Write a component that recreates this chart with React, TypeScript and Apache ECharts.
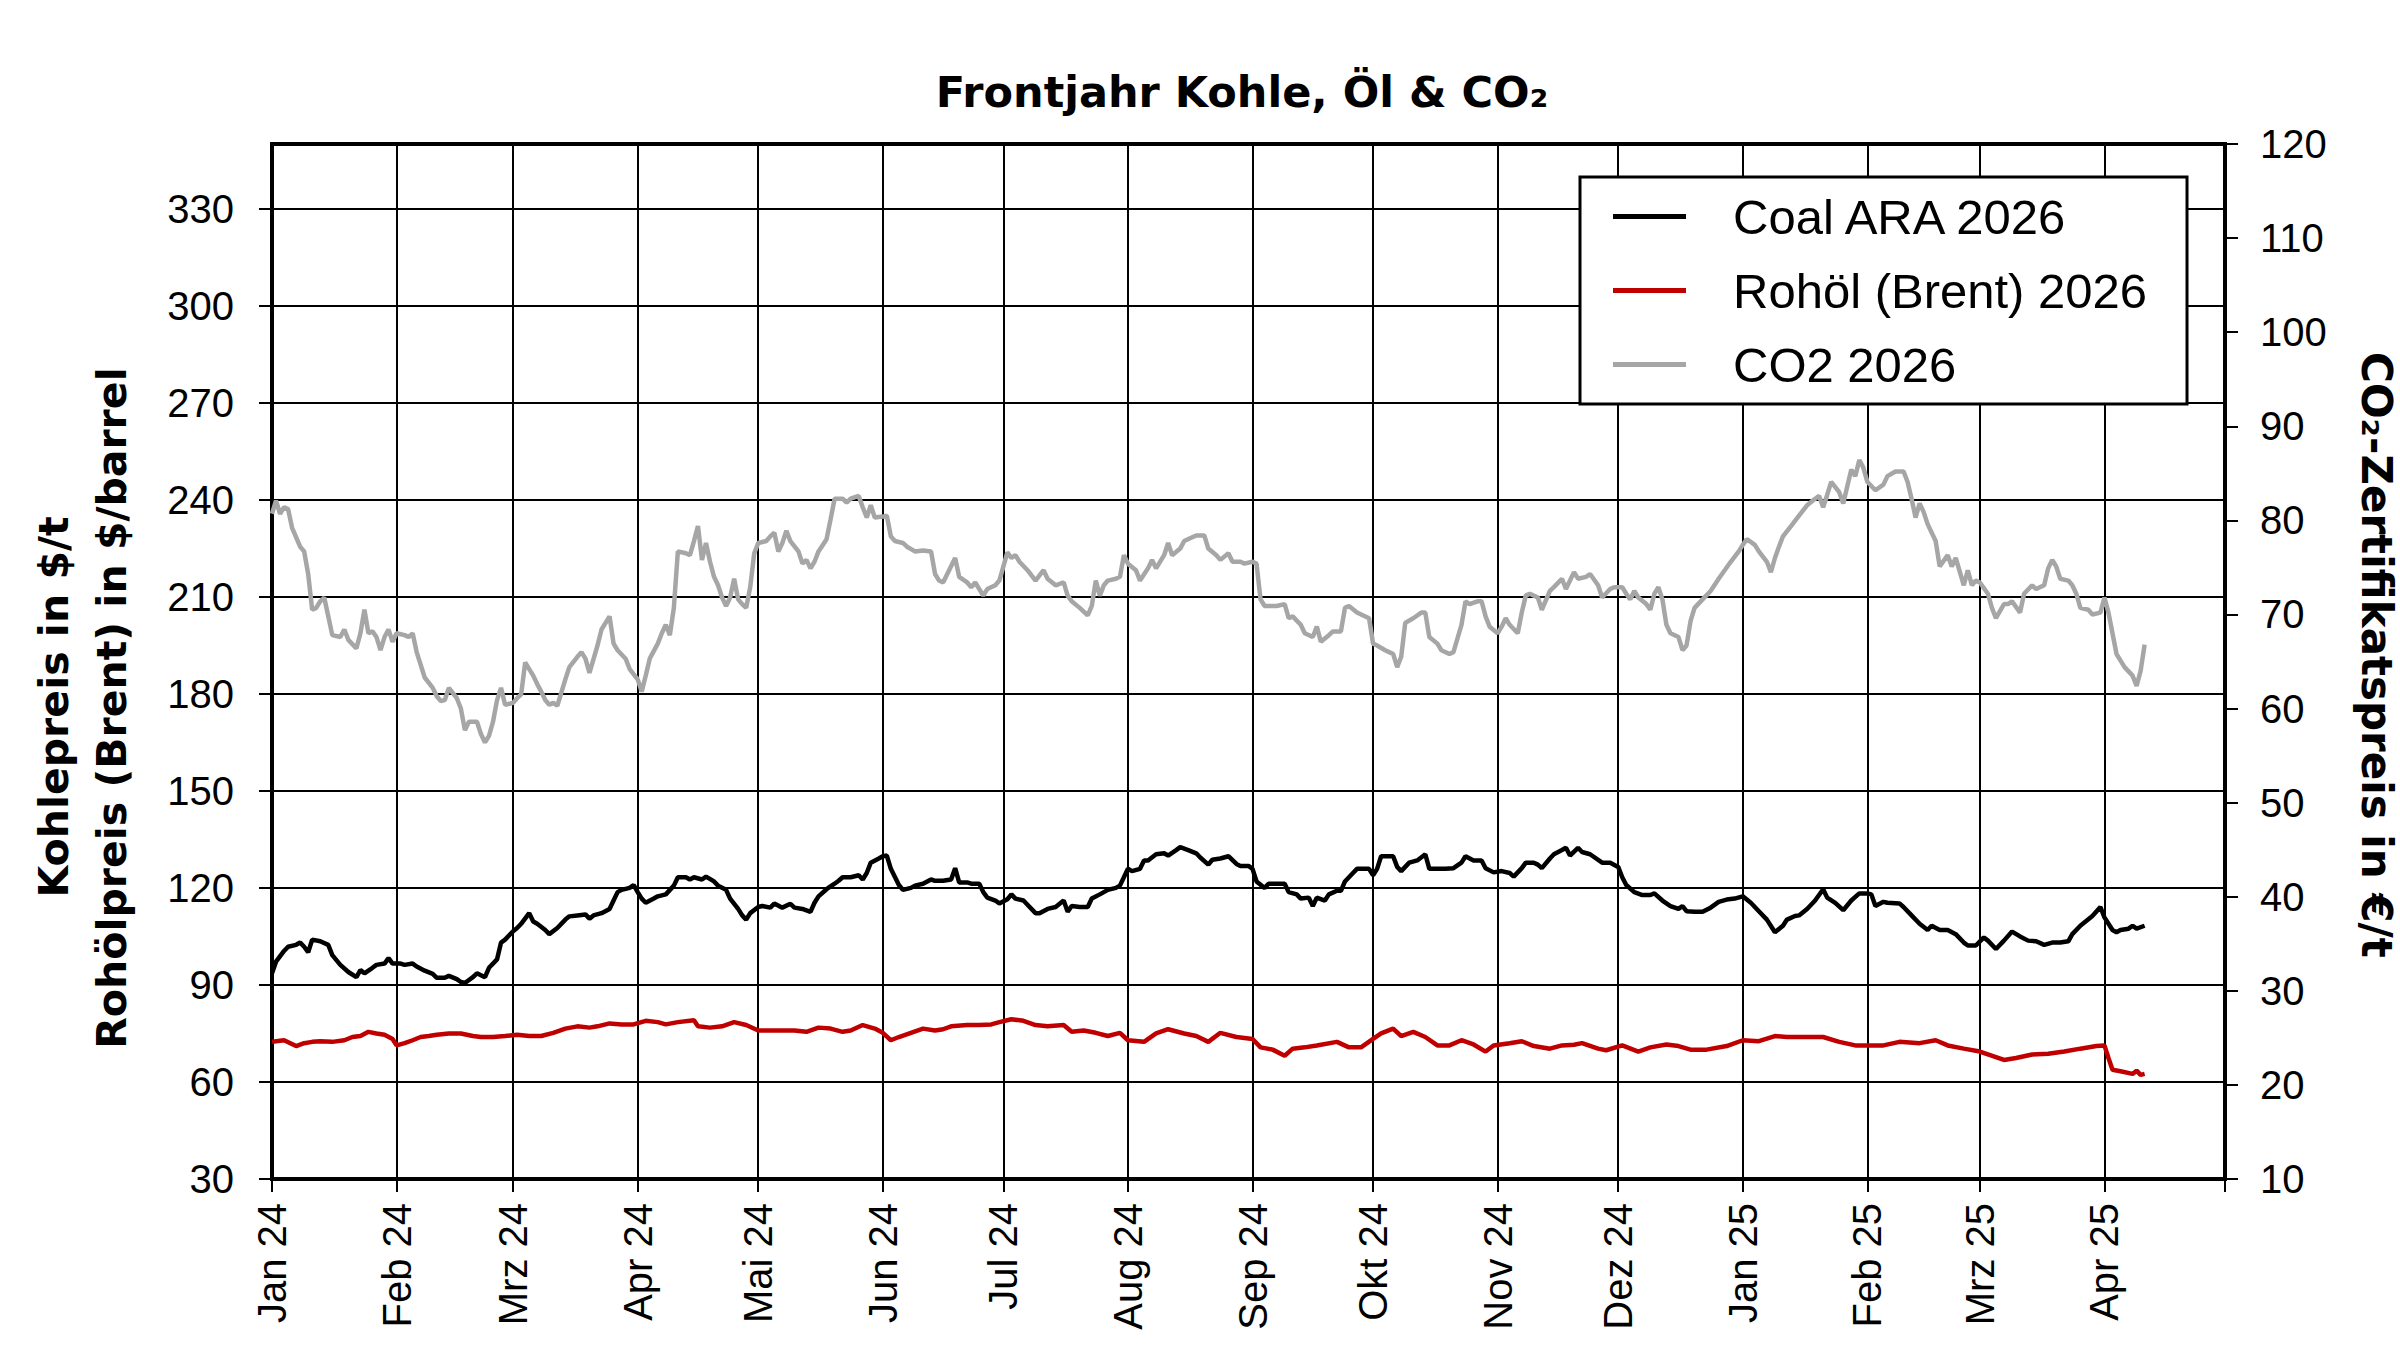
import React, { useEffect, useRef } from 'react';
import * as echarts from 'echarts';

// ---------- tick labels ----------
const monthLabels = [
  'Jan 24', 'Feb 24', 'Mrz 24', 'Apr 24', 'Mai 24', 'Jun 24', 'Jul 24', 'Aug 24',
  'Sep 24', 'Okt 24', 'Nov 24', 'Dez 24', 'Jan 25', 'Feb 25', 'Mrz 25', 'Apr 25',
];
const leftTicks = [30, 60, 90, 120, 150, 180, 210, 240, 270, 300, 330];
const rightTicks = [10, 20, 30, 40, 50, 60, 70, 80, 90, 100, 110, 120];

// ---------- series (day offset from 1 Jan 2024, value) ----------
const coalDays = [
  0, 1, 3, 4, 6, 7, 8, 9, 10, 12, 14, 15, 17, 19, 21, 22, 23, 25, 26, 28, 29, 30, 32, 33, 35, 36, 38, 40, 41, 43,
  44, 46, 47, 48, 50, 51, 53, 54, 56, 57, 58, 60, 61, 62, 64, 65, 66, 68, 69, 71, 73, 74, 76, 78, 79, 80, 82, 84, 85, 86,
  87, 89, 90, 91, 92, 93, 95, 96, 98, 100, 101, 103, 104, 105, 107, 108, 110, 111, 113, 114, 116, 117, 118, 119, 121, 122, 124, 125, 127, 129,
  130, 132, 134, 135, 136, 138, 140, 141, 142, 144, 146, 147, 148, 149, 151, 152, 153, 154, 156, 157, 159, 160, 162, 164, 165, 167, 169, 170, 171, 173,
  174, 176, 177, 178, 180, 181, 183, 184, 185, 187, 188, 190, 191, 193, 195, 197, 198, 199, 201, 203, 204, 206, 208, 210, 211, 213, 214, 216, 217, 218,
  220, 222, 223, 225, 226, 228, 230, 231, 233, 234, 236, 238, 240, 241, 243, 244, 245, 247, 248, 250, 252, 253, 255, 256, 258, 259, 260, 262, 263, 265,
  266, 267, 269, 270, 273, 274, 275, 276, 279, 280, 281, 283, 285, 287, 288, 290, 292, 294, 296, 297, 299, 301, 302, 304, 306, 308, 309, 311, 312, 314,
  315, 316, 318, 319, 321, 322, 323, 325, 326, 328, 331, 333, 335, 336, 337, 339, 341, 343, 344, 346, 348, 350, 351, 352, 354, 356, 358, 360, 362, 364,
  366, 368, 370, 372, 374, 376, 377, 379, 380, 382, 384, 386, 387, 389, 391, 393, 395, 397, 398, 399, 401, 402, 405, 406, 408, 410, 412, 413, 415, 417,
  419, 421, 422, 424, 426, 427, 429, 431, 433, 435, 437, 439, 441, 443, 445, 447, 448, 450, 453, 455, 456, 458, 459, 460, 462, 463, 464, 466,
];
const coalValues = [
  93.6, 97.2, 100.5, 101.8, 102.4, 103.1, 101.8, 100.1, 104.0, 103.5, 102.4, 99.2, 96.2, 94.0, 92.4, 94.6, 93.6, 95.3, 96.2, 96.6, 98.3, 96.6, 96.6, 96.2, 96.6, 95.7, 94.4, 93.4, 92.2, 92.2,
  92.8, 91.8, 90.9, 90.6, 92.4, 93.6, 92.4, 95.3, 97.9, 103.1, 104.0, 106.6, 107.6, 108.9, 112.2, 109.6, 108.9, 107.0, 105.7, 107.6, 110.2, 111.2, 111.5, 111.8, 110.5, 111.5, 112.2, 113.5, 116.1, 118.7,
  119.4, 120.0, 120.9, 118.7, 116.7, 115.4, 116.7, 117.4, 118.0, 120.7, 123.3, 123.3, 122.6, 123.3, 122.6, 123.5, 122.0, 120.7, 119.4, 116.7, 113.5, 111.5, 110.2, 112.2, 114.1, 114.4, 113.9, 115.2, 113.9, 115.1,
  113.9, 113.5, 112.6, 115.4, 117.4, 119.6, 121.3, 122.2, 123.3, 123.3, 123.9, 122.6, 124.6, 127.8, 129.1, 129.8, 130.0, 125.9, 120.9, 119.4, 120.0, 120.7, 121.3, 122.6, 122.2, 122.2, 122.6, 126.1, 121.7, 121.7,
  121.3, 121.3, 118.7, 117.0, 116.1, 115.2, 116.5, 118.0, 116.7, 116.1, 114.8, 112.2, 112.2, 113.5, 114.1, 116.1, 112.6, 114.4, 114.1, 114.1, 116.7, 118.0, 119.4, 120.0, 120.7, 125.9, 125.2, 125.9, 128.5, 128.5,
  130.4, 130.7, 130.0, 131.7, 132.6, 131.7, 130.7, 129.4, 127.2, 128.7, 129.1, 129.8, 127.4, 126.8, 126.8, 125.9, 122.0, 120.0, 121.3, 121.3, 121.3, 118.7, 118.0, 116.7, 117.0, 114.4, 117.0, 116.1, 118.0, 119.1,
  119.1, 122.0, 124.6, 125.9, 125.9, 123.9, 125.9, 129.8, 129.8, 126.5, 125.2, 127.8, 128.5, 130.4, 125.9, 125.9, 125.9, 126.1, 127.8, 129.8, 128.5, 128.5, 126.1, 124.8, 125.2, 124.6, 123.5, 126.1, 127.8, 127.8,
  127.2, 126.1, 129.1, 130.4, 131.7, 132.4, 130.0, 132.4, 131.1, 130.4, 127.8, 127.8, 126.5, 123.3, 120.9, 118.7, 117.8, 117.8, 118.3, 116.1, 114.4, 113.5, 114.4, 112.8, 112.6, 112.6, 113.9, 115.7, 116.4, 116.7,
  117.4, 115.4, 112.8, 110.2, 106.3, 108.3, 110.2, 111.3, 111.5, 113.5, 116.1, 119.6, 117.0, 115.4, 113.1, 116.1, 118.3, 118.3, 118.0, 114.4, 115.7, 115.4, 115.2, 114.1, 111.5, 108.9, 107.0, 108.3, 107.0, 107.0,
  105.7, 103.1, 102.2, 102.2, 104.7, 103.7, 101.1, 103.7, 106.5, 105.0, 103.7, 103.5, 102.4, 103.1, 103.1, 103.5, 105.7, 108.3, 111.3, 114.1, 110.9, 107.0, 106.3, 107.0, 107.4, 108.3, 107.4, 108.3,
];

const oilDays = [
  0, 1, 3, 6, 8, 10, 12, 15, 18, 20, 22, 24, 26, 28, 30, 31, 33, 35, 37, 39, 41, 44, 47, 50, 52, 55, 58, 61, 64, 67,
  70, 73, 76, 79, 81, 84, 87, 90, 93, 96, 98, 101, 105, 106, 109, 112, 115, 118, 121, 124, 127, 130, 133, 136, 139, 142, 144, 147, 150, 152,
  154, 156, 159, 162, 165, 167, 169, 173, 176, 179, 181, 184, 187, 190, 193, 197, 199, 202, 205, 208, 211, 213, 217, 220, 223, 227, 230, 233, 236, 240,
  244, 246, 249, 252, 254, 257, 260, 265, 268, 271, 274, 276, 279, 281, 284, 287, 290, 293, 296, 299, 302, 304, 308, 311, 314, 318, 321, 324, 326, 330,
  332, 336, 340, 343, 347, 350, 353, 357, 362, 366, 370, 374, 377, 381, 386, 390, 394, 397, 401, 405, 410, 414, 417, 421, 425, 429, 431, 434, 438, 442,
  446, 450, 454, 456, 457, 458, 460, 463, 464, 465, 466,
];
const oilValues = [
  72.4, 72.6, 72.9, 71.1, 72.0, 72.4, 72.6, 72.4, 72.9, 73.9, 74.2, 75.5, 75.0, 74.6, 73.3, 71.3, 72.0, 72.9, 73.9, 74.2, 74.6, 75.0, 75.0, 74.2, 73.9, 73.9, 74.2, 74.6, 74.2, 74.2,
  75.2, 76.5, 77.2, 76.8, 77.2, 78.1, 77.8, 77.8, 78.9, 78.5, 77.8, 78.5, 79.1, 77.2, 76.8, 77.2, 78.5, 77.6, 75.9, 75.9, 75.9, 75.9, 75.5, 76.8, 76.5, 75.5, 75.9, 77.6, 76.5, 75.2,
  72.9, 73.9, 75.2, 76.5, 75.9, 76.3, 77.2, 77.6, 77.6, 77.8, 78.5, 79.4, 78.9, 77.6, 77.2, 77.6, 75.5, 75.9, 75.2, 74.2, 75.2, 72.9, 72.4, 75.0, 76.3, 75.0, 74.2, 72.4, 75.2, 73.9,
  73.3, 70.7, 70.0, 68.1, 70.3, 70.7, 71.3, 72.4, 70.7, 70.7, 73.3, 75.0, 76.5, 74.2, 75.5, 73.9, 71.3, 71.3, 72.9, 71.6, 69.4, 71.3, 72.0, 72.6, 71.1, 70.3, 71.3, 71.5, 72.0, 70.3,
  69.8, 71.3, 69.4, 70.7, 71.6, 71.1, 70.0, 70.0, 71.1, 72.9, 72.6, 74.2, 73.9, 73.9, 73.9, 72.4, 71.3, 71.3, 71.3, 72.4, 72.0, 72.9, 71.3, 70.3, 69.4, 67.7, 66.8, 67.4, 68.5, 68.7,
  69.4, 70.3, 71.1, 71.3, 67.4, 63.8, 63.3, 62.5, 63.5, 62.2, 62.5,
];

const co2Days = [
  0, 1, 2, 3, 4, 5, 7, 8, 9, 10, 11, 12, 13, 14, 15, 17, 18, 19, 21, 22, 23, 24, 25, 26, 27, 28, 29, 30, 31, 33,
  34, 35, 36, 38, 40, 41, 42, 43, 44, 46, 47, 48, 49, 51, 52, 53, 54, 55, 56, 57, 58, 60, 61, 62, 63, 65, 66, 67, 68, 69,
  70, 71, 73, 74, 76, 77, 78, 79, 81, 82, 84, 85, 86, 88, 89, 91, 92, 93, 94, 96, 97, 98, 99, 100, 101, 103, 104, 105, 106, 107,
  108, 109, 110, 111, 112, 113, 114, 115, 116, 117, 118, 119, 120, 121, 123, 124, 125, 126, 127, 128, 129, 131, 132, 133, 134, 135, 136, 138, 139, 140,
  142, 143, 144, 146, 147, 148, 149, 150, 152, 153, 154, 155, 157, 158, 160, 162, 164, 165, 166, 167, 170, 171, 173, 174, 175, 177, 178, 180, 181, 183,
  184, 185, 186, 188, 190, 192, 193, 195, 197, 198, 199, 201, 203, 204, 205, 206, 207, 208, 210, 211, 212, 213, 215, 216, 218, 219, 220, 222, 223, 224,
  226, 227, 229, 230, 232, 233, 235, 236, 238, 239, 241, 242, 244, 245, 246, 247, 249, 250, 252, 253, 254, 256, 257, 259, 260, 261, 263, 264, 266, 267,
  268, 270, 273, 274, 275, 277, 278, 279, 280, 281, 282, 284, 286, 287, 288, 290, 291, 293, 294, 296, 297, 298, 300, 301, 302, 303, 305, 306, 307, 308,
  310, 311, 312, 313, 315, 316, 318, 319, 321, 322, 324, 325, 327, 328, 330, 331, 333, 334, 336, 337, 338, 339, 340, 342, 343, 344, 345, 346, 347, 348,
  350, 351, 352, 353, 354, 356, 358, 360, 363, 365, 366, 367, 369, 370, 372, 373, 374, 375, 376, 378, 380, 382, 384, 385, 386, 387, 388, 390, 391, 393,
  394, 395, 396, 397, 399, 401, 402, 404, 406, 407, 408, 409, 410, 411, 412, 414, 415, 417, 418, 419, 421, 422, 423, 424, 425, 427, 428, 429, 431, 432,
  433, 435, 436, 438, 439, 441, 442, 443, 444, 445, 447, 448, 449, 450, 452, 453, 455, 456, 457, 458, 459, 460, 461, 463, 464, 465, 466,
];
const co2Values = [
  80.7, 82.1, 80.7, 81.4, 81.2, 79.2, 77.2, 76.7, 74.3, 70.5, 70.7, 71.4, 71.8, 69.8, 67.8, 67.6, 68.4, 67.3, 66.4, 68.0, 70.5, 68.0, 68.2, 67.6, 66.2, 67.6, 68.4, 67.1, 68.0, 67.8,
  67.6, 68.0, 66.0, 63.3, 62.2, 61.3, 60.8, 60.9, 62.2, 61.1, 60.0, 57.7, 58.6, 58.6, 57.3, 56.4, 57.1, 58.6, 60.9, 62.2, 60.4, 60.6, 61.1, 61.5, 64.9, 63.5, 62.6, 61.8, 60.9, 60.4,
  60.6, 60.3, 63.1, 64.4, 65.5, 66.0, 65.3, 63.8, 66.7, 68.4, 69.8, 66.9, 66.2, 65.3, 64.2, 63.1, 61.8, 63.5, 65.3, 66.9, 68.0, 68.9, 67.8, 70.7, 76.7, 76.5, 76.3, 77.8, 79.4, 75.8,
  77.6, 75.6, 74.0, 73.1, 71.8, 70.9, 71.8, 73.8, 71.6, 71.1, 70.7, 72.9, 76.5, 77.6, 77.8, 78.3, 78.7, 76.7, 77.6, 78.9, 77.8, 76.7, 75.4, 75.8, 74.9, 75.6, 76.7, 78.0, 80.1, 82.3,
  82.3, 81.9, 82.3, 82.6, 81.4, 80.3, 81.6, 80.3, 80.4, 80.5, 78.3, 77.8, 77.6, 77.2, 76.7, 76.8, 76.7, 74.3, 73.6, 73.4, 76.0, 74.0, 73.4, 72.9, 73.4, 72.0, 72.7, 73.1, 73.6, 76.6,
  76.0, 76.3, 75.6, 74.7, 73.6, 74.7, 73.8, 73.1, 73.4, 72.0, 71.4, 70.7, 69.9, 70.9, 73.6, 72.0, 73.1, 73.6, 73.8, 74.0, 76.3, 75.4, 74.7, 73.6, 74.9, 75.8, 74.9, 76.3, 77.6, 76.3,
  77.0, 77.8, 78.2, 78.4, 78.4, 77.0, 76.3, 75.8, 76.5, 75.6, 75.6, 75.4, 75.6, 75.4, 71.6, 70.9, 70.9, 70.9, 71.1, 69.6, 69.8, 68.9, 68.0, 67.6, 68.7, 67.1, 67.8, 68.2, 68.2, 70.7,
  70.9, 70.2, 69.6, 66.9, 66.7, 66.2, 66.0, 65.8, 64.4, 65.5, 69.1, 69.6, 70.2, 70.2, 67.6, 66.9, 66.2, 65.8, 66.0, 68.9, 71.4, 71.1, 71.4, 71.4, 69.8, 68.7, 68.0, 68.7, 69.6, 68.9,
  68.0, 70.2, 72.0, 72.2, 71.8, 70.5, 72.5, 72.9, 73.8, 72.7, 74.5, 73.8, 74.0, 74.3, 73.1, 71.8, 72.7, 72.9, 72.9, 72.2, 71.6, 72.5, 71.8, 71.1, 70.5, 72.2, 72.9, 71.6, 68.9, 68.0,
  67.6, 66.2, 66.7, 69.3, 70.7, 71.6, 72.5, 73.8, 75.6, 76.7, 77.4, 78.0, 77.4, 76.7, 75.6, 74.5, 76.0, 77.2, 78.3, 79.4, 80.5, 81.6, 82.3, 82.6, 81.4, 82.7, 84.1, 83.0, 81.8, 85.4,
  84.7, 86.4, 85.6, 84.1, 83.2, 83.8, 84.7, 85.2, 85.2, 84.1, 82.3, 80.3, 81.8, 80.9, 79.6, 77.8, 75.1, 76.3, 75.1, 76.0, 73.1, 74.7, 73.1, 73.6, 73.4, 72.2, 70.7, 69.6, 71.1, 71.1,
  71.4, 70.2, 72.2, 73.1, 72.7, 73.1, 74.9, 75.8, 75.1, 73.8, 73.6, 73.1, 72.2, 70.7, 70.5, 70.0, 70.2, 71.8, 70.2, 68.0, 65.8, 65.1, 64.4, 63.5, 62.4, 64.0, 66.8,
];

const TOTAL_DAYS = 486; // 1 Jan 2024 .. 1 May 2025

function buildCategories(): string[] {
  const out: string[] = [];
  for (let d = 0; d <= TOTAL_DAYS; d++) {
    const dt = new Date(2024, 0, 1 + d);
    const mm = String(dt.getMonth() + 1).padStart(2, '0');
    const dd = String(dt.getDate()).padStart(2, '0');
    out.push(`${dt.getFullYear()}-${mm}-${dd}`);
  }
  return out;
}

const ARIAL = "'Liberation Sans', Arial, Helvetica, sans-serif";
const BOLD = "'DejaVu Sans', 'Liberation Sans', Arial, sans-serif";

export default function App() {
  const ref = useRef<HTMLDivElement>(null);

  useEffect(() => {
    if (!ref.current) return;
    const chart = echarts.init(ref.current, undefined, { renderer: 'svg' });
    const categories = buildCategories();
    const isMonthStart = categories.map((c) => c.slice(8) === '01');
    const monthInterval = (index: number) => !!isMonthStart[index];
    const pairs = (days: number[], vals: number[]) => days.map((d, i) => [d, vals[i]]);

    const option: any = {
      animation: false,
      backgroundColor: '#ffffff',
      grid: {
        left: 272,
        top: 144,
        width: 1953,
        height: 1035,
        show: true,
        borderColor: '#000',
        borderWidth: 4,
        backgroundColor: 'transparent',
      },
      legend: {
        orient: 'vertical',
        left: 1580,
        top: 177,
        padding: [15, 40, 15, 33],
        itemGap: 25,
        itemWidth: 73,
        itemHeight: 5,
        icon: 'rect',
        backgroundColor: '#ffffff',
        borderColor: '#000',
        borderWidth: 3,
        borderRadius: 0,
        textStyle: {
          fontSize: 49,
          fontFamily: ARIAL,
          color: '#000',
          padding: [0, 0, 0, 42],
        },
        data: ['Coal ARA 2026', 'Rohöl (Brent) 2026', 'CO2 2026'],
      },
      xAxis: {
        type: 'category',
        data: categories,
        boundaryGap: false,
        axisLine: { show: true, lineStyle: { color: '#000', width: 4 } },
        axisTick: {
          show: true,
          interval: monthInterval,
          length: 13,
          lineStyle: { color: '#000', width: 2 },
        },
        axisLabel: {
          show: true,
          interval: monthInterval,
          rotate: 90,
          margin: 24,
          fontSize: 40,
          fontFamily: ARIAL,
          color: '#000',
          formatter: (value: string) => {
            if (value.slice(8) !== '01') return '';
            const k = (Number(value.slice(0, 4)) - 2024) * 12 + Number(value.slice(5, 7)) - 1;
            return monthLabels[k] ?? '';
          },
        },
        splitLine: {
          show: true,
          interval: monthInterval,
          lineStyle: { color: '#000', width: 2 },
        },
      },
      yAxis: [
        {
          type: 'value',
          position: 'left',
          min: 30,
          max: 350,
          interval: 30,
          axisLine: { show: true, lineStyle: { color: '#000', width: 4 } },
          axisTick: {
            show: true,
            length: 13,
            customValues: leftTicks,
            lineStyle: { color: '#000', width: 2 },
          },
          axisLabel: {
            show: true,
            margin: 38,
            fontSize: 40,
            fontFamily: ARIAL,
            color: '#000',
            customValues: leftTicks,
            formatter: (v: number) => (v > 330 ? '' : String(v)),
          },
          splitLine: { show: true, lineStyle: { color: '#000', width: 2 } },
        },
        {
          type: 'value',
          position: 'right',
          min: 10,
          max: 120,
          interval: 10,
          axisLine: { show: true, lineStyle: { color: '#000', width: 4 } },
          axisTick: {
            show: true,
            length: 13,
            customValues: rightTicks,
            lineStyle: { color: '#000', width: 2 },
          },
          axisLabel: {
            show: true,
            margin: 35,
            fontSize: 40,
            fontFamily: ARIAL,
            color: '#000',
            customValues: rightTicks,
          },
          splitLine: { show: false },
        },
      ],
      series: [
        {
          name: 'Coal ARA 2026',
          type: 'line',
          yAxisIndex: 0,
          showSymbol: false,
          symbol: 'none',
          color: '#000000',
          lineStyle: { color: '#000000', width: 4.5 },
          data: pairs(coalDays, coalValues),
          z: 3,
        },
        {
          name: 'Rohöl (Brent) 2026',
          type: 'line',
          yAxisIndex: 0,
          showSymbol: false,
          symbol: 'none',
          color: '#C00000',
          lineStyle: { color: '#C00000', width: 4.5 },
          data: pairs(oilDays, oilValues),
          z: 3,
        },
        {
          name: 'CO2 2026',
          type: 'line',
          yAxisIndex: 1,
          showSymbol: false,
          symbol: 'none',
          color: '#A6A6A6',
          lineStyle: { color: '#A6A6A6', width: 4.5 },
          data: pairs(co2Days, co2Values),
          z: 3,
        },
      ],
      graphic: [
        {
          type: 'text',
          x: 1242,
          y: 92,
          style: {
            text: 'Frontjahr Kohle, Öl & CO₂',
            fontSize: 43,
            fontWeight: 'bold',
            fontFamily: BOLD,
            fill: '#000',
            align: 'center',
            verticalAlign: 'middle',
            textAlign: 'center',
            textVerticalAlign: 'middle',
          },
        },
        {
          type: 'text',
          x: 54,
          y: 707,
          rotation: Math.PI / 2,
          style: {
            text: 'Kohlepreis in $/t',
            fontSize: 41,
            fontWeight: 'bold',
            fontFamily: BOLD,
            fill: '#000',
            align: 'center',
            verticalAlign: 'middle',
            textAlign: 'center',
            textVerticalAlign: 'middle',
          },
        },
        {
          type: 'text',
          x: 112,
          y: 708,
          rotation: Math.PI / 2,
          style: {
            text: 'Rohölpreis (Brent) in $/barrel',
            fontSize: 41,
            fontWeight: 'bold',
            fontFamily: BOLD,
            fill: '#000',
            align: 'center',
            verticalAlign: 'middle',
            textAlign: 'center',
            textVerticalAlign: 'middle',
          },
        },
        {
          type: 'text',
          x: 2376,
          y: 655,
          rotation: -Math.PI / 2,
          style: {
            text: 'CO₂-Zertifikatspreis in €/t',
            fontSize: 42,
            fontWeight: 'bold',
            fontFamily: BOLD,
            fill: '#000',
            align: 'center',
            verticalAlign: 'middle',
            textAlign: 'center',
            textVerticalAlign: 'middle',
          },
        },
      ],
    };

    chart.setOption(option);
    return () => {
      chart.dispose();
    };
  }, []);

  return (
    <div
      ref={ref}
      style={{ position: 'absolute', left: 0, top: 0, width: 2400, height: 1357, background: '#fff' }}
    />
  );
}
